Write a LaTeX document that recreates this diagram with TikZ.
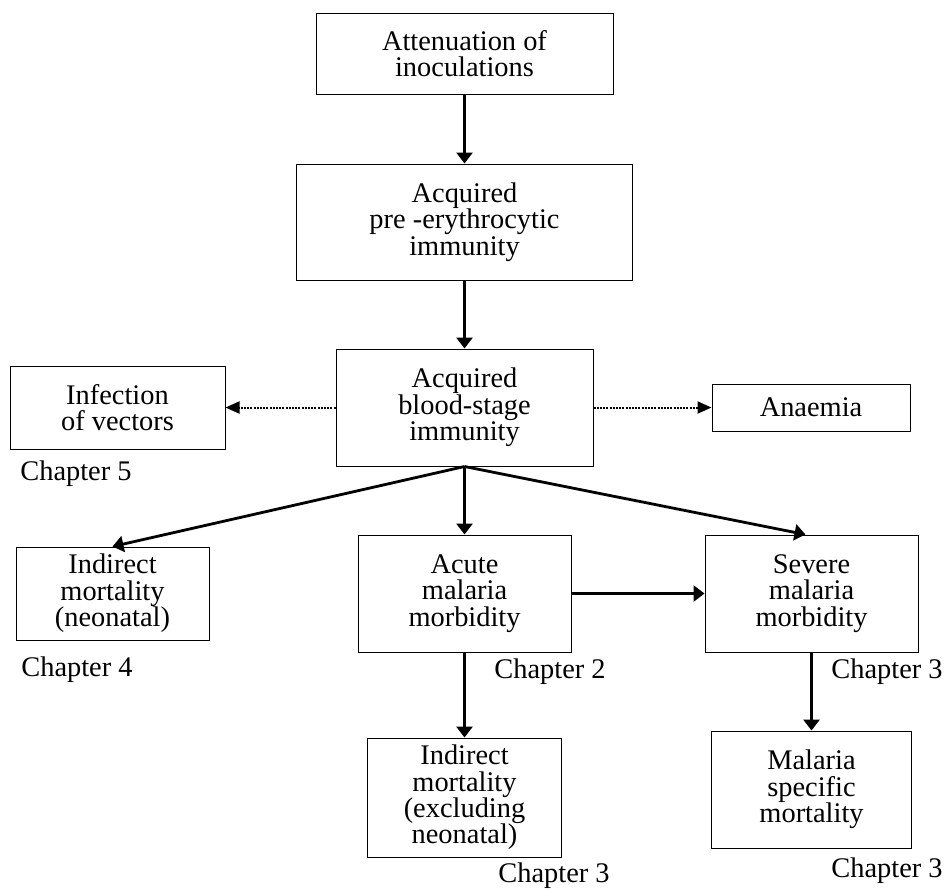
\documentclass[tikz,border=0pt]{standalone}
\usepackage{fontspec}
\setmainfont{Liberation Serif}
\usepackage{tikz}
\usetikzlibrary{arrows.meta}
\usetikzlibrary{positioning}

\begin{document}
\begin{tikzpicture}[x=0.5pt,y=-0.5pt,->,>={Triangle[length=5.5pt,width=8pt]},
                    line width=1.4pt,
                    box node/.style={rectangle,draw,line width=0.5pt,align=center,inner sep=0pt,
                                     font=\fontsize{14.2}{13.2}\selectfont},
                    chapter node/.style={anchor=base west,inner sep=0pt,font=\fontsize{14.2}{13.2}\selectfont},
                    dotted link/.style={line width=1pt,dash pattern=on 1pt off 0.6pt,
                                        -{Triangle[length=7pt,width=6pt]}}]

  \useasboundingbox (0,0) rectangle (945,891);

  % main column
  \node[box node,minimum width=148.5pt,minimum height=40.5pt] (att) at (464.5,53.5) {Attenuation of\\inoculations};
  \node[box node,minimum width=168pt,minimum height=58pt] (pre) [below=34.5pt of att] {Acquired\\pre -erythrocytic\\immunity};
  \node[box node,minimum width=128.5pt,minimum height=58.5pt] (blood) [below=34pt of pre] {Acquired\\blood-stage\\immunity};
  \node[box node,minimum width=106.5pt,minimum height=58.5pt] (acute) [below=34pt of blood] {Acute\\malaria\\morbidity};
  \node[box node,minimum width=97pt,minimum height=59.5pt] (excl) [below=42.5pt of acute] {Indirect\\mortality\\(excluding\\neonatal)};

  % side boxes
  \node[box node,minimum width=107.5pt,minimum height=41.5pt] (vectors) [left=55pt of blood] {Infection\\of vectors};
  \node[box node,minimum width=99pt,minimum height=23.5pt] (anaemia) [right=59pt of blood] {Anaemia};
  \node[box node,minimum width=96.5pt,minimum height=46.5pt] (neonatal) [left=74pt of acute] {Indirect\\mortality\\(neonatal)};
  \node[box node,minimum width=106.5pt,minimum height=58.5pt] (severe) [right=66.5pt of acute] {Severe\\malaria\\morbidity};
  \node[box node,minimum width=100pt,minimum height=58.5pt] (specific) [below=39pt of severe] {Malaria\\specific\\mortality};

  % chapters
  \node[chapter node] (ch5) at (19,480) {Chapter 5};
  \node[chapter node] (ch4) at (20,676) {Chapter 4};
  \node[chapter node] (ch2) at (493,678) {Chapter 2};
  \node[chapter node] (ch3sev) at (830,678) {Chapter 3};
  \node[chapter node] (ch3excl) at (497,882) {Chapter 3};
  \node[chapter node] (ch3spec) at (830,877) {Chapter 3};

  \path
    (att) edge (pre)
    (pre) edge (blood)
    (blood) edge (acute)
    (blood.south) edge (neonatal.north)
    (blood.south) edge ([xshift=-3pt]severe.north)
    (acute) edge (severe)
    (acute) edge (excl)
    (severe) edge (specific)
    (blood) edge[dotted link] (vectors)
    (blood) edge[dotted link] (anaemia)
  ;
\end{tikzpicture}
\end{document}
